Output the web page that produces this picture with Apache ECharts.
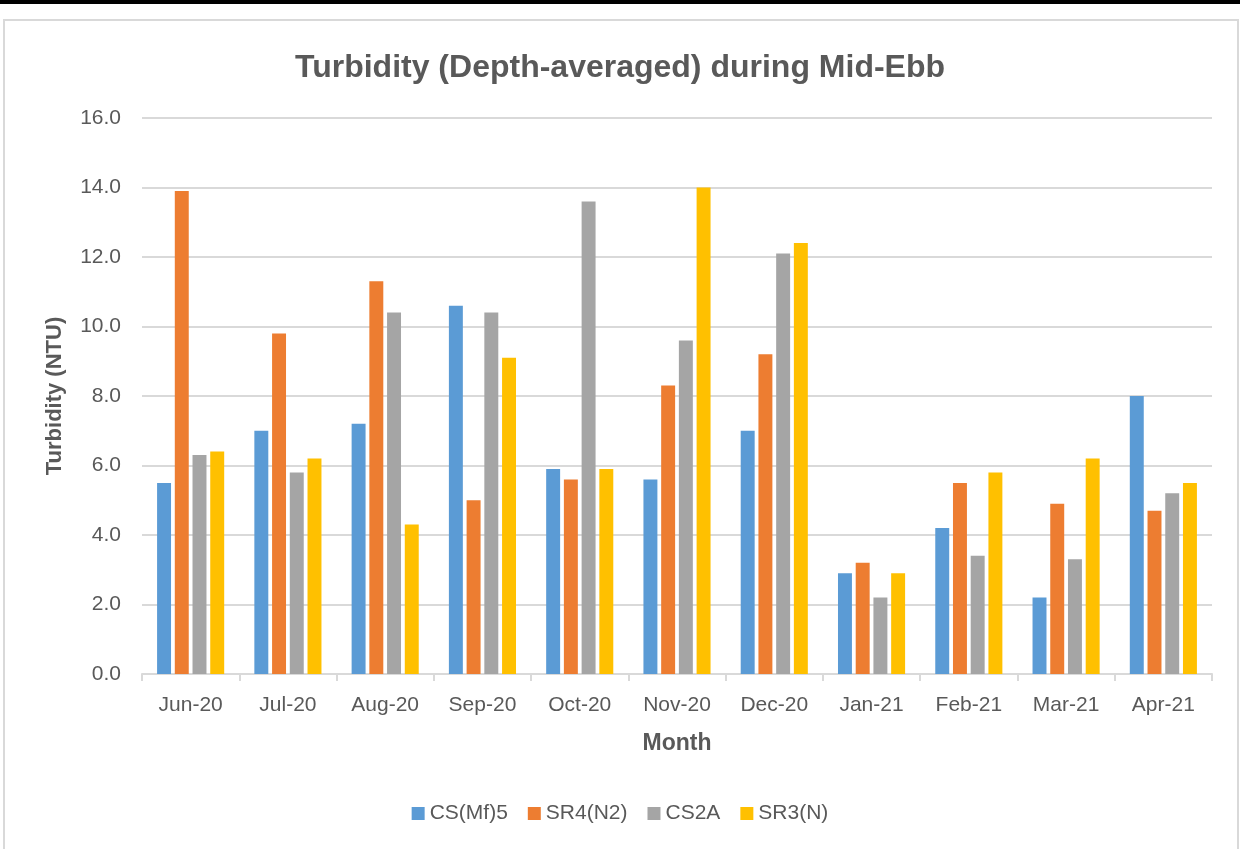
<!DOCTYPE html>
<html>
<head>
<meta charset="utf-8">
<script src="https://cdn.jsdelivr.net/npm/echarts@6/dist/echarts.min.js"></script>
<style>
html,body{margin:0;padding:0;background:#fff;}
#chart{width:1240px;height:849px;}
</style>
</head>
<body>
<div id="chart"></div>
<script>
const categories = ['Jun-20','Jul-20','Aug-20','Sep-20','Oct-20','Nov-20','Dec-20','Jan-21','Feb-21','Mar-21','Apr-21'];
const seriesNames = ['CS(Mf)5','SR4(N2)','CS2A','SR3(N)'];
const csMf5 = [5.5, 7.0, 7.2, 10.6, 5.9, 5.6, 7.0, 2.9, 4.2, 2.2, 8.0];
const sr4N2 = [13.9, 9.8, 11.3, 5.0, 5.6, 8.3, 9.2, 3.2, 5.5, 4.9, 4.7];
const cs2A  = [6.3, 5.8, 10.4, 10.4, 13.6, 9.6, 12.1, 2.2, 3.4, 3.3, 5.2];
const sr3N  = [6.4, 6.2, 4.3, 9.1, 5.9, 14.0, 12.4, 2.9, 5.8, 6.2, 5.5];
const colors = ['#5B9BD5','#ED7D31','#A5A5A5','#FFC000'];
const allValues = [csMf5, sr4N2, cs2A, sr3N];

const font = '"Liberation Sans", Arial, sans-serif';
const textColor = '#595959';

const chart = echarts.init(document.getElementById('chart'), null, {renderer:'canvas'});
chart.setOption({
  animation: false,
  textStyle: {fontFamily: font},
  title: {
    text: 'Turbidity (Depth-averaged) during Mid-Ebb',
    left: 'center', top: 47,
    textStyle: {fontFamily: font, fontSize: 32, fontWeight: 'bold', color: textColor}
  },
  graphic: [
    {type:'rect', shape:{x:0, y:0, width:1240, height:4}, style:{fill:'#000'}},
    {type:'rect', shape:{x:4, y:20, width:1234, height:840}, style:{fill:'none', stroke:'#d9d9d9', lineWidth:2}}
  ],
  legend: {
    bottom: 20, left: 'center',
    itemWidth: 13, itemHeight: 13, itemGap: 20,
    icon: 'rect',
    textStyle: {fontFamily: font, fontSize: 21, color: textColor},
    data: seriesNames
  },
  grid: {left: 142, right: 28, top: 118, bottom: 175},
  xAxis: {
    type: 'category',
    data: categories,
    name: 'Month', nameLocation: 'middle', nameGap: 58,
    nameTextStyle: {fontFamily: font, fontSize: 23, fontWeight: 'bold', color: textColor},
    axisLine: {lineStyle: {color: '#d9d9d9', width: 2}},
    axisTick: {show: true, length: 7, lineStyle: {color: '#d9d9d9', width: 2}},
    axisLabel: {fontFamily: font, fontSize: 21, color: textColor, margin: 21}
  },
  yAxis: {
    type: 'value', min: 0, max: 16, interval: 2,
    name: 'Turbidity (NTU)', nameLocation: 'middle', nameGap: 76,
    nameTextStyle: {fontFamily: font, fontSize: 22, fontWeight: 'bold', color: textColor},
    axisLine: {show: false},
    axisTick: {show: false},
    splitLine: {lineStyle: {color: '#d9d9d9', width: 2}},
    axisLabel: {fontFamily: font, fontSize: 21, color: textColor, margin: 21,
      formatter: v => v.toFixed(1)}
  },
  series: seriesNames.map((n, i) => ({
    name: n, type: 'bar', data: allValues[i],
    barGap: '27%', barCategoryGap: '31%',
    itemStyle: {color: colors[i]}
  }))
});
</script>
</body>
</html>
